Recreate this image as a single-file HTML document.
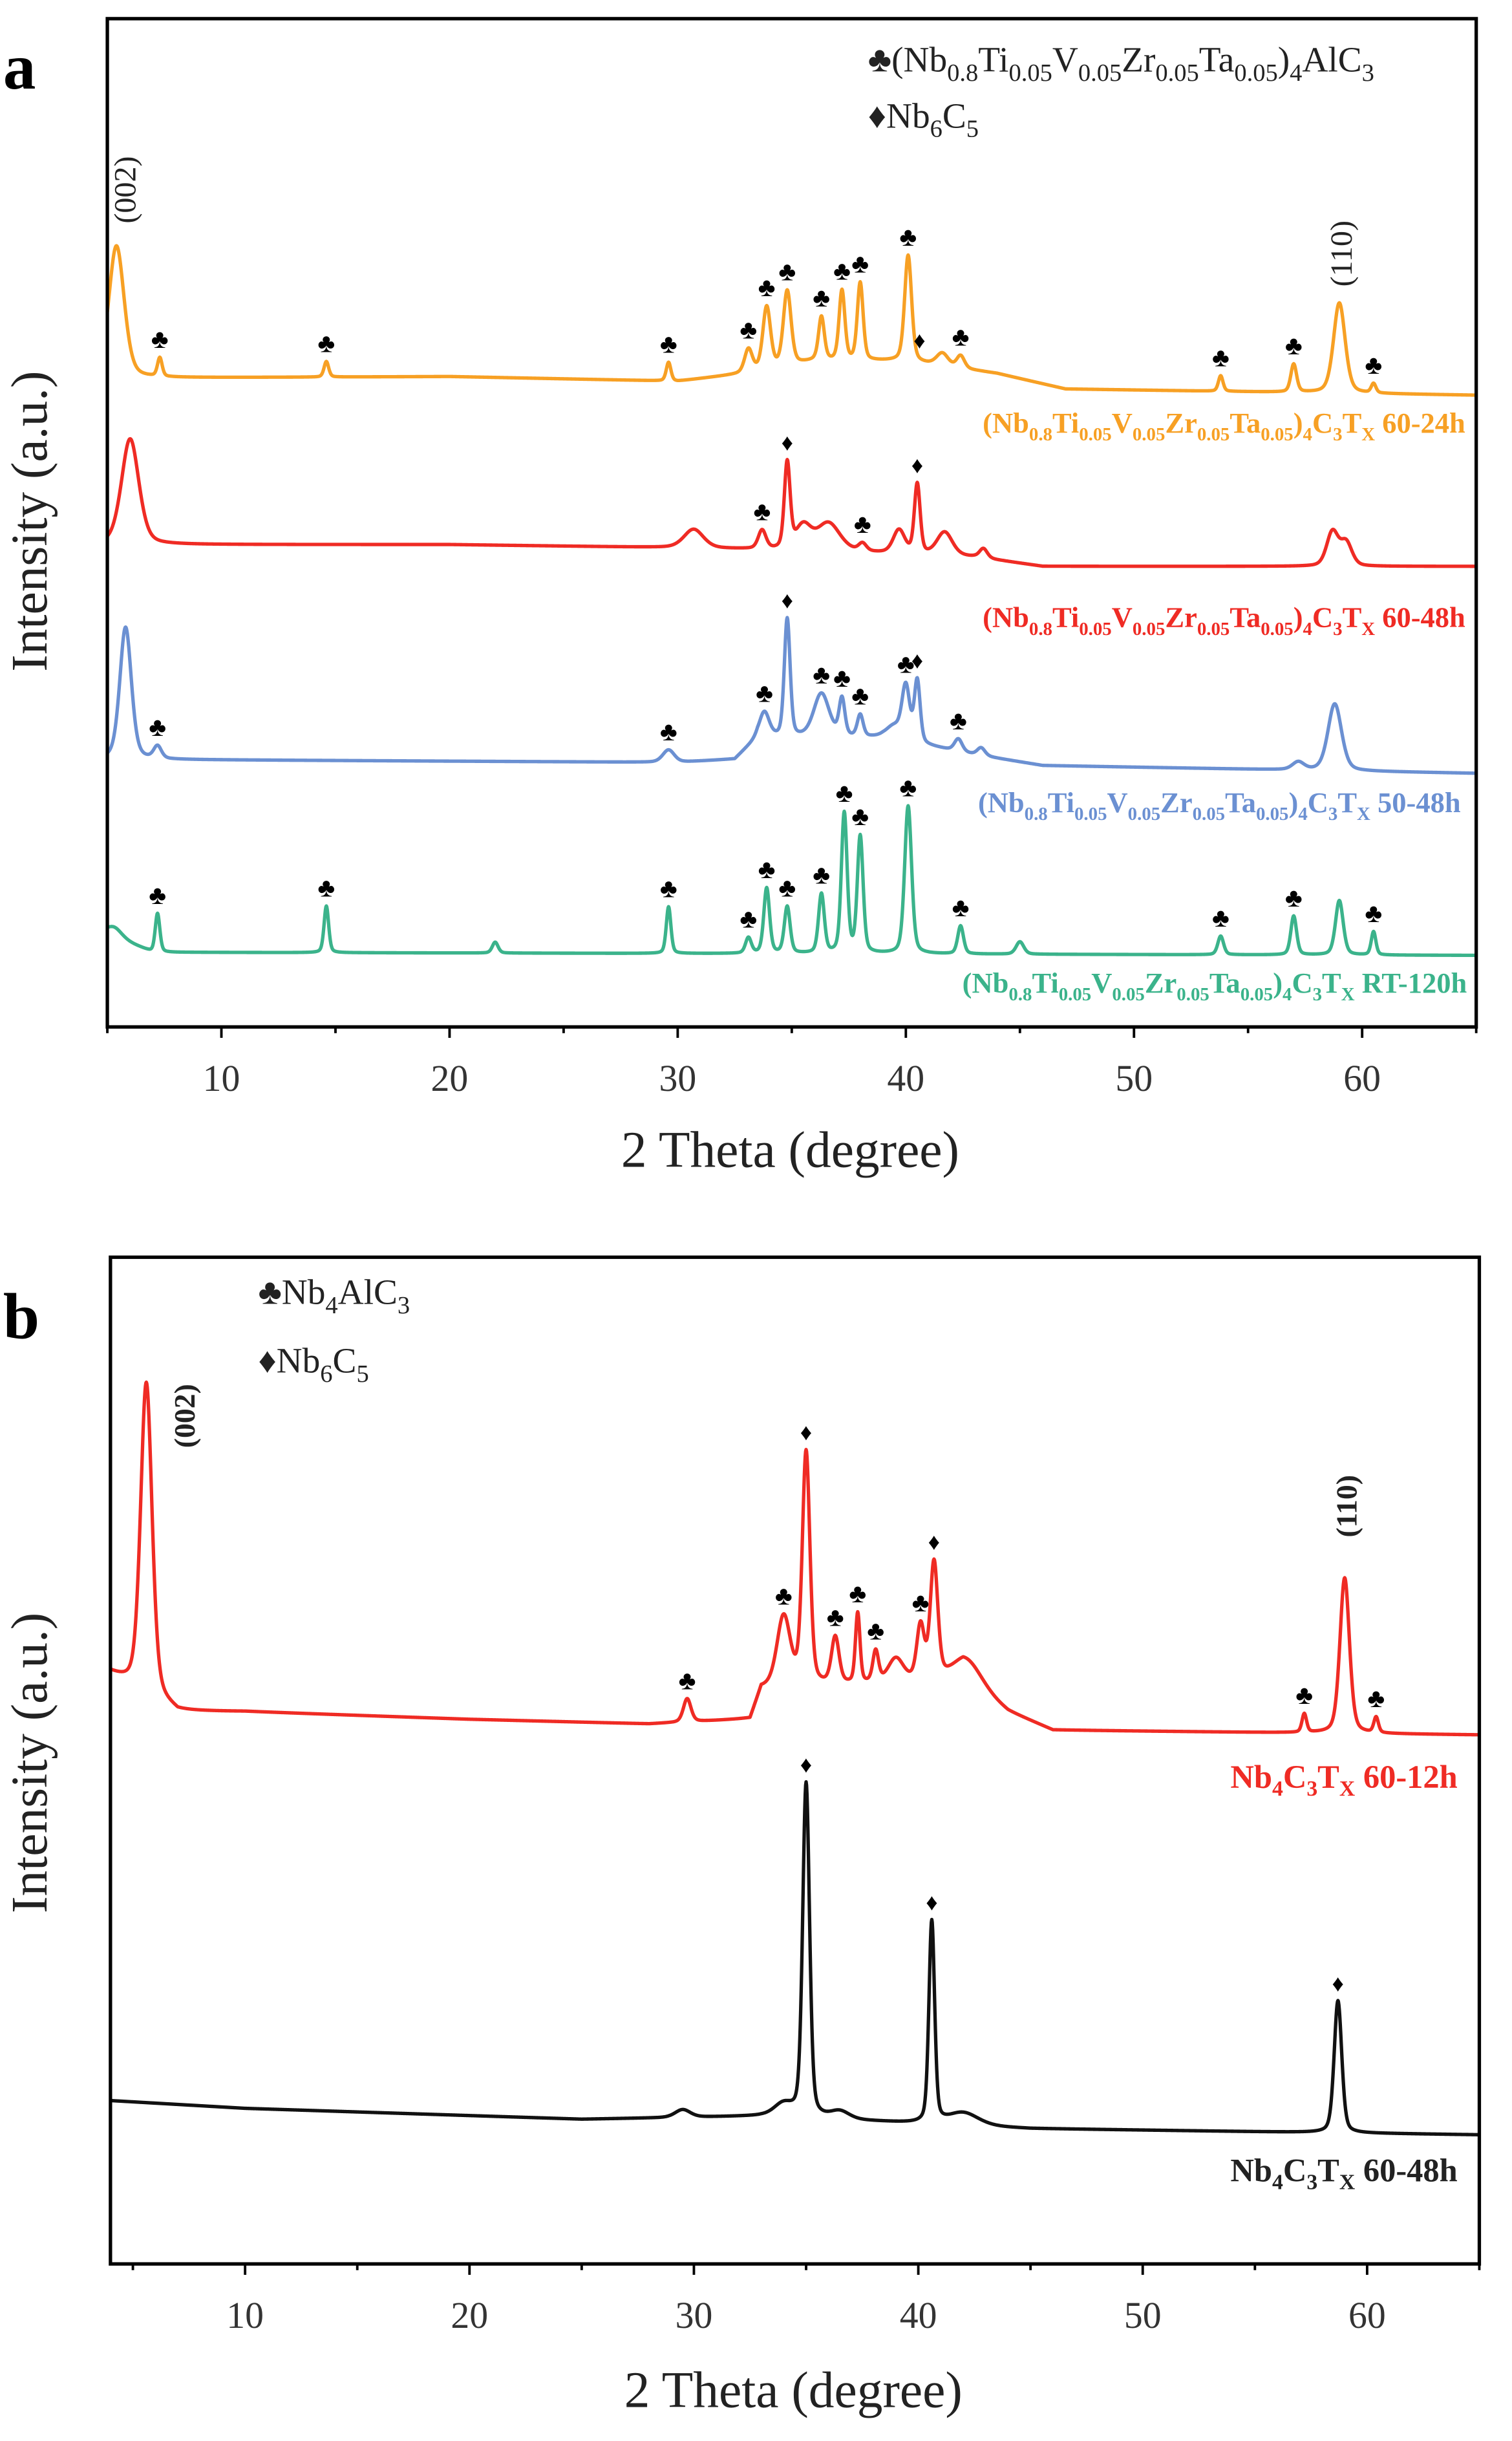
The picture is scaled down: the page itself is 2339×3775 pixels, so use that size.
<!DOCTYPE html>
<html><head><meta charset="utf-8"><style>
html,body{margin:0;padding:0;background:#fff;}
svg{display:block;}
text{font-family:"Liberation Serif","DejaVu Serif",serif;}
</style></head><body>
<svg id="fig" width="2339" height="3775" viewBox="0 0 972 1568.8" preserveAspectRatio="none" xmlns="http://www.w3.org/2000/svg">
<text x="2" y="57" font-size="42" font-weight="bold">a</text>
<text x="2" y="860" font-size="42" font-weight="bold">b</text>
<g id="pa"></g>
<g id="pb"></g>
</svg>
<script>
// ---- Panel a data ----
const aXTicks = [10,20,30,40,50,60];
const aOrangeBase = [[5,243],[20,242],[30,245],[33,240],[36,232],[40,232],[44,240],[47,250],[65,254]];
const aOrangePeaks = [[5.4,85,0.4],[7.3,12,0.12],[14.6,10,0.12],[29.6,12,0.12],[33.1,15,0.2],[33.9,40,0.2],[34.8,48,0.2],[36.3,28,0.15],[37.2,45,0.15],[38,50,0.15],[40.1,68,0.18],[41.6,8,0.3],[42.4,8,0.2],[53.8,10,0.12],[57,18,0.15],[59,58,0.3],[60.5,6,0.12]];
const aRedBase = [[5,350],[20,350],[30,352],[33,353],[38,355],[43,358],[46,364],[65,364]];
const aRedPeaks = [[6.0,68,0.45],[30.7,12,0.5],[33.7,12,0.2],[34.8,55,0.15],[35.5,15,0.4],[36.6,18,0.6],[38.1,5,0.2],[39.7,15,0.3],[40.5,45,0.15],[41.7,15,0.4],[43.4,6,0.2],[58.7,22,0.3],[59.3,15,0.3]];
const aBlueBase = [[5,488],[30,490],[32.5,488],[33.5,474],[39,474],[43,485],[46,492],[65,497]];
const aBluePeaks = [[5.8,85,0.3],[7.2,8,0.2],[29.6,8,0.3],[33.8,16,0.25],[34.8,76,0.15],[36.3,28,0.4],[37.2,24,0.15],[38,14,0.15],[39.5,8,0.4],[40,34,0.2],[40.5,40,0.15],[42.3,8,0.2],[43.3,5,0.2],[57.2,5,0.3],[58.8,43,0.35]];
const aGreenBase = [[5,600],[7,612],[65,614]];
const aGreenPeaks = [[5.3,6,0.4],[7.2,25,0.12],[14.6,30,0.12],[22,7,0.15],[29.6,30,0.12],[33.1,10,0.15],[33.9,42,0.15],[34.8,30,0.15],[36.3,38,0.15],[37.3,90,0.15],[38,75,0.15],[40.1,95,0.18],[42.4,18,0.15],[45,8,0.2],[53.8,12,0.15],[57,25,0.15],[59,35,0.2],[60.5,15,0.12]];
const aOrangeMarks = [[7.3,'c'],[14.6,'c'],[29.6,'c'],[33.1,'c'],[33.9,'c'],[34.8,'c'],[36.3,'c'],[37.2,'c'],[38,'c'],[40.1,'c'],[40.6,'d'],[42.4,'c'],[53.8,'c'],[57,'c'],[60.5,'c']];
const aRedMarks = [[33.7,'c'],[34.8,'d'],[38.1,'c'],[40.5,'d']];
const aBlueMarks = [[7.2,'c'],[29.6,'c'],[33.8,'c'],[34.8,'d'],[36.3,'c'],[37.2,'c'],[38,'c'],[40,'c'],[40.5,'d'],[42.3,'c']];
const aGreenMarks = [[7.2,'c'],[14.6,'c'],[29.6,'c'],[33.1,'c'],[33.9,'c'],[34.8,'c'],[36.3,'c'],[37.3,'c'],[38,'c'],[40.1,'c'],[42.4,'c'],[53.8,'c'],[57,'c'],[60.5,'c']];
// ---- Panel b data ----
const bXTicks = [10,20,30,40,50,60];
const bRedBase = [[4,1075],[7,1100],[10,1100],[20,1105],[28,1108],[32.5,1105],[33,1085],[42,1080],[44,1100],[46,1112],[65,1115]];
const bRedPeaks = [[5.6,200,0.3],[29.7,15,0.2],[34,45,0.35],[35,150,0.2],[36.3,30,0.2],[37.3,45,0.12],[38.1,20,0.15],[39,15,0.4],[40.1,35,0.2],[40.7,75,0.2],[42.2,15,0.8],[57.2,12,0.12],[59,100,0.25],[60.4,10,0.12]];
const bBlackBase = [[4,1350],[10,1355],[25,1362],[33,1360],[45,1368],[65,1372]];
const bBlackPeaks = [[35,215,0.18],[40.6,130,0.15],[58.7,85,0.2],[34,8,0.5],[36.5,5,0.5],[42,8,0.8],[29.5,5,0.4]];
const bRedMarks = [[29.7,'c'],[34,'c'],[35,'d'],[36.3,'c'],[37.3,'c'],[38.1,'c'],[40.1,'c'],[40.7,'d'],[57.2,'c'],[60.4,'c']];
const bBlackMarks = [[35,'d'],[40.6,'d'],[58.7,'d']];

const NS='http://www.w3.org/2000/svg';
function mk(tag,attrs,parent){const e=document.createElementNS(NS,tag);for(const k in attrs)e.setAttribute(k,attrs[k]);parent.appendChild(e);return e;}
function interp(base,x){for(let i=0;i<base.length-1;i++){const a=base[i],b=base[i+1];if(x>=a[0]&&x<=b[0])return a[1]+(b[1]-a[1])*(x-a[0])/(b[0]-a[0]);}return base[base.length-1][1];}
function curveY(base,peaks,x){let y=interp(base,x);for(const p of peaks){const t=(x-p[0])/p[2];y-=p[1]*(0.65*Math.exp(-0.693*t*t)+0.35/(1+t*t));}return y;}

function panel(g,cfg){
  const sx=v=>cfg.L+(v-cfg.x0)*(cfg.R-cfg.L)/(cfg.x1-cfg.x0);
  cfg.series.forEach(s=>{
    let d='';for(let x=cfg.x0;x<=cfg.x1+1e-9;x+=0.02){d+=(d?'L':'M')+sx(x).toFixed(2)+','+curveY(s.base,s.peaks,x).toFixed(2);}
    const p=mk('path',{d:d,fill:'none',stroke:s.color,'stroke-width':2.2,'stroke-linejoin':'round'},g);
    
    
    s.marks.forEach(m=>{
      const yy=curveY(s.base,s.peaks,m[0])-6;
      const t=mk('text',{x:sx(m[0]),y:yy,'font-size':m[1]==='c'?17:15,'text-anchor':'middle',fill:'#000'},g);
      t.textContent=m[1]==='c'?'\u2663':'\u2666';
      
      
    });
  });
  const fr=mk('rect',{x:cfg.L,y:cfg.T,width:cfg.R-cfg.L,height:cfg.B-cfg.T,fill:'none',stroke:'#000','stroke-width':2.2},g);
  
  
  for(let v=Math.ceil(cfg.x0/5)*5;v<=cfg.x1;v+=5){
    const major=v%10===0;
    const tk=mk('line',{x1:sx(v),x2:sx(v),y1:cfg.B,y2:cfg.B+(major?7:4),stroke:'#000','stroke-width':1.6},g);
    
    
  }
  cfg.ticks.forEach(v=>{
    const t=mk('text',{x:sx(v),y:cfg.B+41,'font-size':24,'text-anchor':'middle',fill:'#333'},g);
    t.textContent=v;
    
    
  });
}
panel(document.getElementById('pa'),{L:69,R:949,T:12,B:660,x0:5,x1:65,ticks:aXTicks,series:[
 {name:'series-60-24h',color:'#f7a024',base:aOrangeBase,peaks:aOrangePeaks,marks:aOrangeMarks},
 {name:'series-60-48h',color:'#ef2b24',base:aRedBase,peaks:aRedPeaks,marks:aRedMarks},
 {name:'series-50-48h',color:'#6b90d2',base:aBlueBase,peaks:aBluePeaks,marks:aBlueMarks},
 {name:'series-rt-120h',color:'#3bb38b',base:aGreenBase,peaks:aGreenPeaks,marks:aGreenMarks}]});
panel(document.getElementById('pb'),{L:71,R:951,T:808,B:1455,x0:4,x1:65,ticks:bXTicks,series:[
 {name:'series-nb4c3-60-12h',color:'#ef2b24',base:bRedBase,peaks:bRedPeaks,marks:bRedMarks},
 {name:'series-nb4c3-60-48h',color:'#111',base:bBlackBase,peaks:bBlackPeaks,marks:bBlackMarks}]});
</script>
<svg style="position:absolute;left:0;top:0" width="2339" height="3775" viewBox="0 0 972 1568.8" preserveAspectRatio="none" xmlns="http://www.w3.org/2000/svg">
<g font-family="Liberation Serif, serif">
<text x="508" y="750" font-size="33" text-anchor="middle" fill="#222">2 Theta (degree)</text>
<text x="510" y="1547" font-size="33" text-anchor="middle" fill="#222">2 Theta (degree)</text>
<text transform="translate(30,335) rotate(-90)" font-size="33" text-anchor="middle" fill="#222">Intensity (a.u.)</text>
<text transform="translate(30,1133) rotate(-90)" font-size="33" text-anchor="middle" fill="#222">Intensity (a.u.)</text>
<text x="558" y="46" font-size="23" fill="#222">♣(Nb<tspan font-size="16" dy="6">0.8</tspan><tspan dy="-6">Ti</tspan><tspan font-size="16" dy="6">0.05</tspan><tspan dy="-6">V</tspan><tspan font-size="16" dy="6">0.05</tspan><tspan dy="-6">Zr</tspan><tspan font-size="16" dy="6">0.05</tspan><tspan dy="-6">Ta</tspan><tspan font-size="16" dy="6">0.05</tspan><tspan dy="-6">)</tspan><tspan font-size="16" dy="6">4</tspan><tspan dy="-6">AlC</tspan><tspan font-size="16" dy="6">3</tspan></text>
<text x="558" y="82" font-size="23" fill="#222">♦Nb<tspan font-size="16" dy="6">6</tspan><tspan dy="-6">C</tspan><tspan font-size="16" dy="6">5</tspan></text>
<text x="166" y="838" font-size="23" fill="#222">♣Nb<tspan font-size="16" dy="6">4</tspan><tspan dy="-6">AlC</tspan><tspan font-size="16" dy="6">3</tspan></text>
<text x="166" y="882" font-size="23" fill="#222">♦Nb<tspan font-size="16" dy="6">6</tspan><tspan dy="-6">C</tspan><tspan font-size="16" dy="6">5</tspan></text>
<text transform="translate(87,122) rotate(-90)" font-size="20" text-anchor="middle" fill="#222">(002)</text>
<text transform="translate(869,163) rotate(-90)" font-size="20" text-anchor="middle" fill="#222">(110)</text>
<text transform="translate(125,910) rotate(-90)" font-size="19" font-weight="bold" text-anchor="middle" fill="#222">(002)</text>
<text transform="translate(872,968) rotate(-90)" font-size="19" font-weight="bold" text-anchor="middle" fill="#222">(110)</text>
<g font-size="18.5" font-weight="bold" text-anchor="end">
<text x="942" y="278" fill="#f7a024">(Nb<tspan font-size="12" dy="5">0.8</tspan><tspan dy="-5">Ti</tspan><tspan font-size="12" dy="5">0.05</tspan><tspan dy="-5">V</tspan><tspan font-size="12" dy="5">0.05</tspan><tspan dy="-5">Zr</tspan><tspan font-size="12" dy="5">0.05</tspan><tspan dy="-5">Ta</tspan><tspan font-size="12" dy="5">0.05</tspan><tspan dy="-5">)</tspan><tspan font-size="12" dy="5">4</tspan><tspan dy="-5">C</tspan><tspan font-size="12" dy="5">3</tspan><tspan dy="-5">T</tspan><tspan font-size="12" dy="5">X</tspan><tspan dy="-5">  60-24h</tspan></text>
<text x="942" y="403" fill="#ef2b24">(Nb<tspan font-size="12" dy="5">0.8</tspan><tspan dy="-5">Ti</tspan><tspan font-size="12" dy="5">0.05</tspan><tspan dy="-5">V</tspan><tspan font-size="12" dy="5">0.05</tspan><tspan dy="-5">Zr</tspan><tspan font-size="12" dy="5">0.05</tspan><tspan dy="-5">Ta</tspan><tspan font-size="12" dy="5">0.05</tspan><tspan dy="-5">)</tspan><tspan font-size="12" dy="5">4</tspan><tspan dy="-5">C</tspan><tspan font-size="12" dy="5">3</tspan><tspan dy="-5">T</tspan><tspan font-size="12" dy="5">X</tspan><tspan dy="-5">  60-48h</tspan></text>
<text x="939" y="522" fill="#6b90d2">(Nb<tspan font-size="12" dy="5">0.8</tspan><tspan dy="-5">Ti</tspan><tspan font-size="12" dy="5">0.05</tspan><tspan dy="-5">V</tspan><tspan font-size="12" dy="5">0.05</tspan><tspan dy="-5">Zr</tspan><tspan font-size="12" dy="5">0.05</tspan><tspan dy="-5">Ta</tspan><tspan font-size="12" dy="5">0.05</tspan><tspan dy="-5">)</tspan><tspan font-size="12" dy="5">4</tspan><tspan dy="-5">C</tspan><tspan font-size="12" dy="5">3</tspan><tspan dy="-5">T</tspan><tspan font-size="12" dy="5">X</tspan><tspan dy="-5">  50-48h</tspan></text>
<text x="943" y="638" fill="#3bb38b">(Nb<tspan font-size="12" dy="5">0.8</tspan><tspan dy="-5">Ti</tspan><tspan font-size="12" dy="5">0.05</tspan><tspan dy="-5">V</tspan><tspan font-size="12" dy="5">0.05</tspan><tspan dy="-5">Zr</tspan><tspan font-size="12" dy="5">0.05</tspan><tspan dy="-5">Ta</tspan><tspan font-size="12" dy="5">0.05</tspan><tspan dy="-5">)</tspan><tspan font-size="12" dy="5">4</tspan><tspan dy="-5">C</tspan><tspan font-size="12" dy="5">3</tspan><tspan dy="-5">T</tspan><tspan font-size="12" dy="5">X</tspan><tspan dy="-5"> RT-120h</tspan></text>
<text x="937" y="1149" font-size="21" fill="#ef2b24">Nb<tspan font-size="14" dy="5">4</tspan><tspan dy="-5">C</tspan><tspan font-size="14" dy="5">3</tspan><tspan dy="-5">T</tspan><tspan font-size="14" dy="5">X</tspan><tspan dy="-5"> 60-12h</tspan></text>
<text x="937" y="1402" font-size="21" fill="#222">Nb<tspan font-size="14" dy="5">4</tspan><tspan dy="-5">C</tspan><tspan font-size="14" dy="5">3</tspan><tspan dy="-5">T</tspan><tspan font-size="14" dy="5">X</tspan><tspan dy="-5"> 60-48h</tspan></text>
</g>
</g>
</svg>
</body></html>
